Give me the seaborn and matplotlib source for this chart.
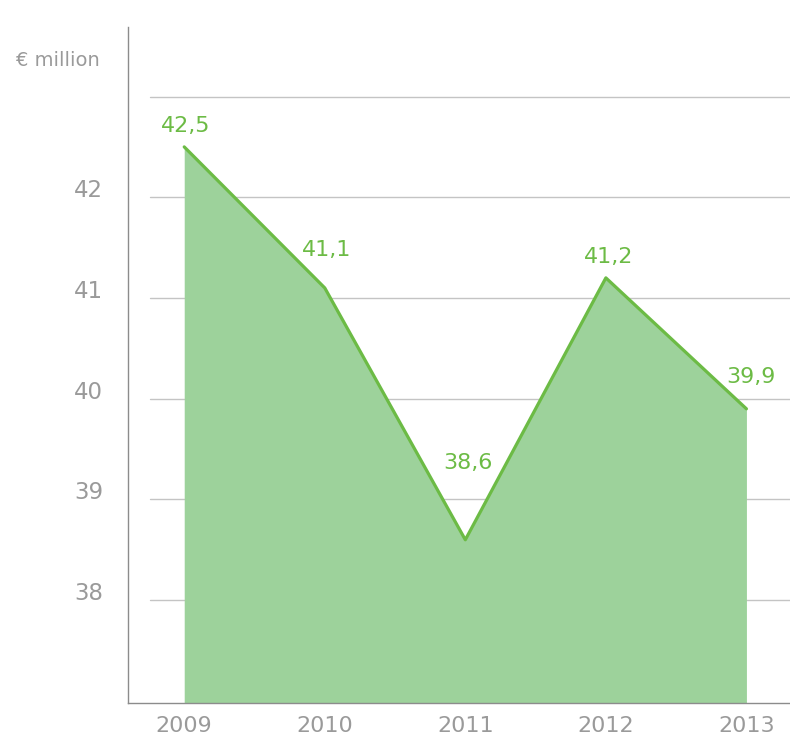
import matplotlib
matplotlib.use("Agg")
import matplotlib.pyplot as plt
import matplotlib.transforms as mtransforms
import seaborn as sns
import pandas as pd

# Annual figures, € million
years = [2009, 2010, 2011, 2012, 2013]
values = [42.5, 41.1, 38.6, 41.2, 39.9]
value_labels = ["42,5", "41,1", "38,6", "41,2", "39,9"]
y_ticks = [38, 39, 40, 41, 42]
grid_levels = [38, 39, 40, 41, 42, 43]
unit_label = "€ million"

# label placement (offset from each point, in pixels)
label_dx = [1, 2, 3, 3, 5]
label_dy = [21, 38, 77, 21, 32]

LINE = "#6cbb45"
FILL = "#9dd29b"
GREY = "#9a9a9a"
GRID = "#c4c4c4"

sns.set_theme(style="white")
plt.rcParams["font.family"] = ["DejaVu Sans"]

df = pd.DataFrame({"year": years, "value": values})

fig = plt.figure(figsize=(7.9, 7.37), dpi=100)
ax = fig.add_axes([128 / 790, 34 / 737, 662 / 790, 676 / 737])

ax.set_xlim(2008.6, 2013.31)
ax.set_ylim(36.98, 43.69)

for g in grid_levels:
    ax.axhline(g, xmin=22 / 662, xmax=1.0, color=GRID, lw=1.0, zorder=1)

ax.fill_between(df["year"], df["value"], 36.98, color=FILL, lw=0, zorder=2)
sns.lineplot(data=df, x="year", y="value", color=LINE, lw=2.3, ax=ax, zorder=3)

px = 72 / fig.dpi
for x, y, lab, dx, dy in zip(years, values, value_labels, label_dx, label_dy):
    ax.annotate(lab, (x, y), xytext=(dx * px, dy * px), textcoords="offset points",
                ha="center", va="center", fontsize=16, color=LINE, zorder=4)

ax.set_xticks(years)
ax.set_xticklabels([str(y) for y in years], fontsize=16, color=GREY)
ax.set_yticks(y_ticks)
ax.set_yticklabels([str(t) for t in y_ticks], fontsize=16.5, color=GREY)
ax.tick_params(axis="both", length=0)
ax.tick_params(axis="y", pad=18)
ax.tick_params(axis="x", pad=9)
shift = mtransforms.ScaledTranslation(0, 9 / fig.dpi, fig.dpi_scale_trans)
for t in ax.get_yticklabels():
    t.set_transform(t.get_transform() + shift)

ax.set_xlabel("")
ax.set_ylabel("")
for s in ["top", "right"]:
    ax.spines[s].set_visible(False)
for s in ["left", "bottom"]:
    ax.spines[s].set_color("#8c8c8c")
    ax.spines[s].set_linewidth(1.0)

fig.text(100 / 790, 1 - 60 / 737, unit_label, ha="right", va="center",
         fontsize=14, color=GREY)

fig.savefig("out.png", dpi=100)
